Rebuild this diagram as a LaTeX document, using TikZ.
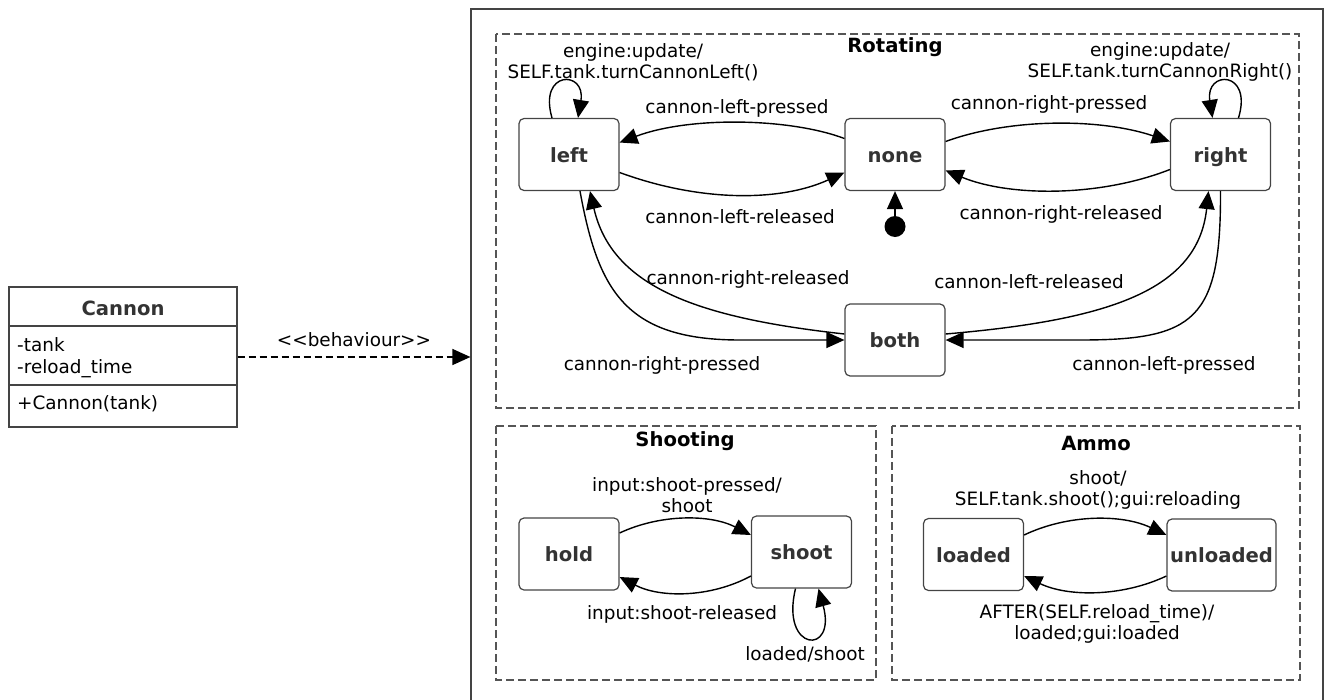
\documentclass[tikz,border=0pt]{standalone}
\usepackage{fontspec}
\setmainfont{DejaVu Sans}
\usetikzlibrary{arrows.meta}
\definecolor{edgegrey}{HTML}{444444}
\definecolor{dashgrey}{HTML}{555555}
\definecolor{statetext}{HTML}{333333}
\newcommand{\lblfont}{\fontsize{18.4}{21.5}\selectfont}
\newcommand{\ttlfont}{\fontsize{19.6}{23}\selectfont\bfseries}

\begin{document}
\begin{tikzpicture}[x=1pt,y=-1pt,
  state/.style={draw=edgegrey, line width=1.2pt, rounded corners=5pt,
    minimum width=100pt, minimum height=72pt, inner sep=0pt,
    text height=15pt, text depth=0pt, font=\ttlfont, text=statetext},
  lbl/.style={font=\lblfont, align=center, inner sep=0pt},
  ttl/.style={font=\ttlfont, inner sep=0pt},
  region/.style={draw=dashgrey, line width=1.2pt, dash pattern=on 8pt off 4pt},
  trans/.style={draw=black, line width=1.4pt, -{Triangle[length=18pt,width=16pt]}},
]
\useasboundingbox (0,0) rectangle (1324,699);

% behaviour container
\node[draw=edgegrey, line width=1.2pt, minimum width=852pt, minimum height=711pt,
      inner sep=0pt] (machine) at (897,364.5) {};

% class box
\node[draw=edgegrey, line width=1.2pt, minimum width=228pt, minimum height=140pt,
      inner sep=0pt] (cannon) at (123,357) {};
\draw[edgegrey, line width=1.2pt] (cannon.west |- 0,326) -- (cannon.east |- 0,326);
\draw[edgegrey, line width=1.2pt] (cannon.west |- 0,385) -- (cannon.east |- 0,385);
\node[ttl, text=statetext, anchor=base] (cname) at (123,315) {Cannon};
\node[lbl, anchor=base west] (attr1) at (17,351) {-tank};
\node[lbl, anchor=base west] (attr2) at (17,373) {-reload\_time};
\node[lbl, anchor=base west] (op1) at (17,409) {+Cannon(tank)};

\draw[line width=1.4pt, dash pattern=on 7pt off 4pt, -{Triangle[length=18pt,width=16pt]}]
  (cannon.east) -- (machine.west |- cannon.east);
\node[lbl] (beh) at (354,340) {<{}<behaviour>{}>};

% regions
\draw[region] (496,34) rectangle (1299,408);
\draw[region] (496,426) rectangle (876,680);
\draw[region] (892,426) rectangle (1300,680);
\node[ttl] (trot) at (895,47) {Rotating};
\node[ttl] (tshoot) at (685,441) {Shooting};
\node[ttl] (tammo) at (1096,443) {Ammo};

% Rotating states
\node[state] (left)  at (569,154.5) {left};
\node[state] (none)  at (895,154.5) {none};
\node[state] (right) at (1220.5,154.5) {right};
\node[state] (both)  at (895,340) {both};
\node[circle, fill=black, minimum size=21pt, inner sep=0pt] (init) at (895,226.5) {};
\draw[trans] (init.north) -- (none.south);

\draw[trans] ([xshift=-17pt]left.north) .. controls (538,70) and (586,70) .. ([xshift=9pt]left.north);
\draw[trans] ([xshift=18pt]right.north) .. controls (1253,70) and (1205,70) .. ([xshift=-8pt]right.north);
\node[lbl] (l1) at (633,62) {engine:update/\\SELF.tank.turnCannonLeft()};
\node[lbl] (l2) at (1160,62) {engine:update/\\SELF.tank.turnCannonRight()};

\draw[trans] ([yshift=16pt]none.west) .. controls (790,118) and (690,116) .. ([yshift=12pt]left.east);
\draw[trans] ([yshift=-18pt]left.east) .. controls (700,202) and (780,202) .. ([yshift=-18pt]none.west);
\draw[trans] ([yshift=13pt]none.east) .. controls (1010,118) and (1100,118) .. ([yshift=13pt]right.west);
\draw[trans] ([yshift=-15pt]right.west) .. controls (1100,197) and (1010,197) .. ([yshift=-16pt]none.east);
\node[lbl] (l3) at (737,108) {cannon-left-pressed};
\node[lbl] (l4) at (740,217) {cannon-left-released};
\node[lbl] (l5) at (1049,104) {cannon-right-pressed};
\node[lbl] (l6) at (1061,214) {cannon-right-released};

\draw[trans] ([xshift=11pt]left.south) .. controls (598,290) and (625,340) .. (740,340) -- (both.west);
\draw[trans] ([yshift=6pt]both.west) .. controls (700,318) and (612,288) .. ([xshift=21pt]left.south);
\draw[trans] (right.south) .. controls (1221,320) and (1195,340) .. (1080,340) -- (both.east);
\draw[trans] ([yshift=6pt]both.east) .. controls (1110,320) and (1198,290) .. ([xshift=-12pt]right.south);
\node[lbl] (l7) at (748,279) {cannon-right-released};
\node[lbl] (l8) at (1029,282) {cannon-left-released};
\node[lbl] (l9) at (662,365) {cannon-right-pressed};
\node[lbl] (l10) at (1164,365) {cannon-left-pressed};

% Shooting states
\node[state] (hold)  at (569,554) {hold};
\node[state] (shoot) at (801.5,552) {shoot};
\draw[trans] ([yshift=21pt]hold.east) .. controls (660,514) and (710,514) .. ([yshift=17pt]shoot.west);
\draw[trans] ([yshift=-24pt]shoot.west) .. controls (710,598) and (660,598) .. ([yshift=-23pt]hold.east);
\draw[trans] ([xshift=-6pt]shoot.south) .. controls (780,652) and (837,656) .. ([xshift=17pt]shoot.south);
\node[lbl] (l11) at (687,495) {input:shoot-pressed/\\shoot};
\node[lbl] (l12) at (682,614) {input:shoot-released};
\node[lbl] (l13) at (805,654) {loaded/shoot};

% Ammo states
\node[state] (loaded)   at (973.5,554.5) {loaded};
\node[state, minimum width=109pt] (unloaded) at (1221.5,555) {unloaded};
\draw[trans] ([yshift=19.5pt]loaded.east) .. controls (1068,514) and (1122,514) .. ([yshift=20pt]unloaded.west);
\draw[trans] ([yshift=-21pt]unloaded.west) .. controls (1122,597) and (1068,597) .. ([yshift=-21.5pt]loaded.east);
\node[lbl] (l14) at (1098,490) {shoot/\\SELF.tank.shoot();gui:reloading};
\node[lbl] (l15) at (1097,624) {AFTER(SELF.reload\_time)/\\loaded;gui:loaded};
\end{tikzpicture}
\end{document}
